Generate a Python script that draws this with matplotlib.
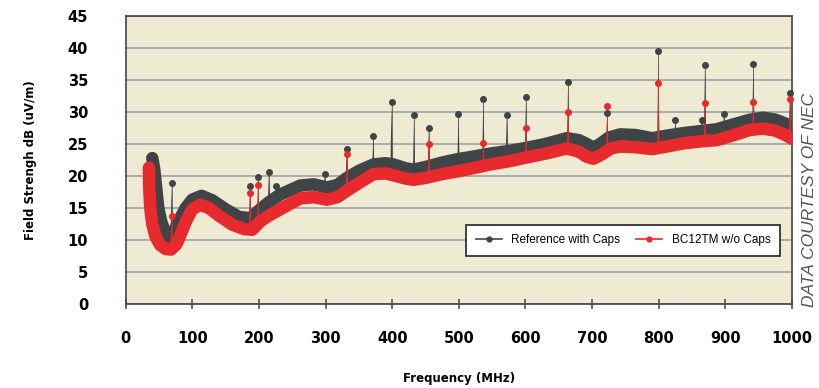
import matplotlib.pyplot as plt
import numpy as np

plt.rcParams['font.family'] = ['DejaVu Sans']

# Reference with Caps (thick dark band)
freq_ref = [40, 43, 46, 49, 53, 58, 65, 68, 73, 80, 90, 100, 114, 130, 150, 170, 187,
            202, 215, 232, 262, 282, 302, 318, 332, 350, 372, 390, 402, 420, 432, 450,
            475, 497, 520, 547, 575, 602, 630, 662, 680, 692, 702, 712, 725, 742, 765,
            790, 812, 837, 862, 887, 910, 937, 957, 975, 990, 1000]
field_ref = [22.8, 21.0, 18.0, 15.0, 13.0, 11.5, 10.5, 10.4, 11.5, 13.0, 15.0, 16.3, 16.9,
             16.2, 14.8, 13.6, 13.4, 14.8, 15.9, 17.1, 18.5, 18.7, 18.2, 18.6, 19.7, 20.8,
             21.8, 22.0, 21.8, 21.2, 21.0, 21.4, 22.1, 22.6, 23.0, 23.5, 23.9, 24.4, 25.0,
             25.9, 25.6, 25.0, 24.4, 25.0, 26.0, 26.5, 26.4, 25.9, 26.3, 26.7, 27.0, 27.3,
             28.0, 28.8, 29.1, 28.8, 28.2, 27.5]

# BC12TM w/o Caps (thick red band)
freq_bc = [35, 35.5, 37, 40, 45, 52, 60, 68, 76, 80, 90, 100, 112, 125, 140, 160, 178,
           190, 202, 215, 232, 262, 282, 302, 318, 332, 350, 372, 390, 402, 420, 432,
           450, 475, 497, 520, 547, 575, 602, 630, 662, 680, 692, 702, 715, 728, 742,
           765, 790, 812, 837, 862, 887, 910, 937, 957, 975, 990, 1000]
field_bc = [21.3, 18.0, 15.0, 12.5, 10.5, 9.2, 8.6, 8.5, 9.3, 10.2, 12.8, 14.8, 15.5,
            15.0, 13.8, 12.4, 11.7, 11.6, 12.9, 13.8, 14.8, 16.5, 16.7, 16.3, 16.7, 17.7,
            18.9, 20.3, 20.4, 20.1, 19.6, 19.4, 19.7, 20.3, 20.7, 21.2, 21.8, 22.3, 22.9,
            23.5, 24.3, 23.8, 23.0, 22.7, 23.4, 24.3, 24.6, 24.5, 24.2, 24.6, 25.1, 25.4,
            25.6, 26.3, 27.2, 27.4, 27.1, 26.4, 25.8]

# narrowband peaks
peak_ref_freq = [69, 186.7, 199, 215, 225.7, 299, 331.8, 371.7, 399, 432.8, 455, 499.5,
                 536.8, 572, 600.8, 664, 722.8, 799.4, 825, 864.5, 869.4, 898, 942, 997]
peak_ref = [18.95, 18.5, 19.9, 20.7, 18.5, 20.3, 24.2, 26.3, 31.5, 29.5, 27.5, 29.7,
            32.1, 29.5, 32.3, 34.7, 29.8, 39.5, 28.75, 28.8, 37.4, 29.7, 37.5, 32.9]
peak_bc_freq = [69, 186.7, 199, 331.8, 455, 536.8, 600.8, 664, 722.8, 799.4, 869.4, 942, 997]
peak_bc = [13.75, 17.4, 18.6, 23.4, 24.95, 25.1, 27.5, 30.0, 31.0, 34.6, 31.4, 31.5, 32.0]

dark = '#3f4546'
red = '#e8292d'

fig = plt.figure(figsize=(8.2, 3.88), dpi=100)
ax = fig.add_axes([0.1532, 0.2165, 0.8127, 0.7423])
ax.set_facecolor('#eeebd2')

w = 1.6
for f, p in zip(peak_ref_freq, peak_ref):
    base = np.interp(f, freq_ref, field_ref)
    ax.fill([f - w, f + w, f], [base, base, p], color=dark, lw=0, zorder=2)
    ax.plot([f, f], [base, p], color=dark, lw=0.5, zorder=2)
ax.plot(freq_ref, field_ref, color=dark, lw=9, solid_capstyle='round',
        solid_joinstyle='round', zorder=3)
for f, p in zip(peak_bc_freq, peak_bc):
    base = np.interp(f, freq_bc, field_bc)
    ax.fill([f - w, f + w, f], [base, base, p], color=red, lw=0, zorder=4)
    ax.plot([f, f], [base, p], color=red, lw=0.5, zorder=4)
ax.plot(freq_bc, field_bc, color=red, lw=9, solid_capstyle='round',
        solid_joinstyle='round', zorder=5)
ax.plot(peak_ref_freq, peak_ref, 'o', color=dark, ms=4, zorder=6, clip_on=False)
ax.plot(peak_bc_freq, peak_bc, 'o', color=red, ms=4, zorder=7, clip_on=False)

ax.set_xlim(0, 1000)
ax.set_ylim(0, 45)
ax.set_xticks(np.arange(0, 1001, 100))
ax.set_yticks(np.arange(0, 46, 5))
ax.yaxis.grid(True, color='#9ba2aa', lw=1.2)
ax.set_axisbelow(True)
ax.tick_params(axis='x', direction='inout', length=7, width=1.2, color='#555555',
               pad=16, labelsize=10.5)
ax.tick_params(axis='y', length=0, pad=27, labelsize=10.5)
for lab in ax.get_xticklabels() + ax.get_yticklabels():
    lab.set_fontweight('bold')
for s in ax.spines.values():
    s.set_color('#444444')
    s.set_linewidth(1.2)

ax.set_xlabel('Frequency (MHz)', fontsize=8.5, fontweight='bold', labelpad=19)
ax.set_ylabel('Field Strengh dB (uV/m)', fontsize=8.5, fontweight='bold', labelpad=22)

h1, = ax.plot([], [], '-o', color=dark, lw=1.2, ms=3.5)
h2, = ax.plot([], [], '-o', color=red, lw=1.2, ms=3.5)
leg = ax.legend([h1, h2], ['Reference with Caps', 'BC12TM w/o Caps'], ncol=2,
                loc='center', bbox_to_anchor=(0.7465, 0.2205),
                prop={'family': 'Liberation Sans', 'size': 8.5},
                frameon=True, fancybox=False, framealpha=1, edgecolor='#333333',
                handlelength=2.2, columnspacing=1.4, borderpad=0.8)
leg.get_frame().set_linewidth(1.3)
leg.set_zorder(10)

fig.text(0.987, 0.485, 'DATA COURTESY OF NEC', rotation=90, style='italic',
         family='Liberation Sans', color='#555555', fontsize=12.5,
         ha='center', va='center')

plt.savefig('out.png', dpi=100)
